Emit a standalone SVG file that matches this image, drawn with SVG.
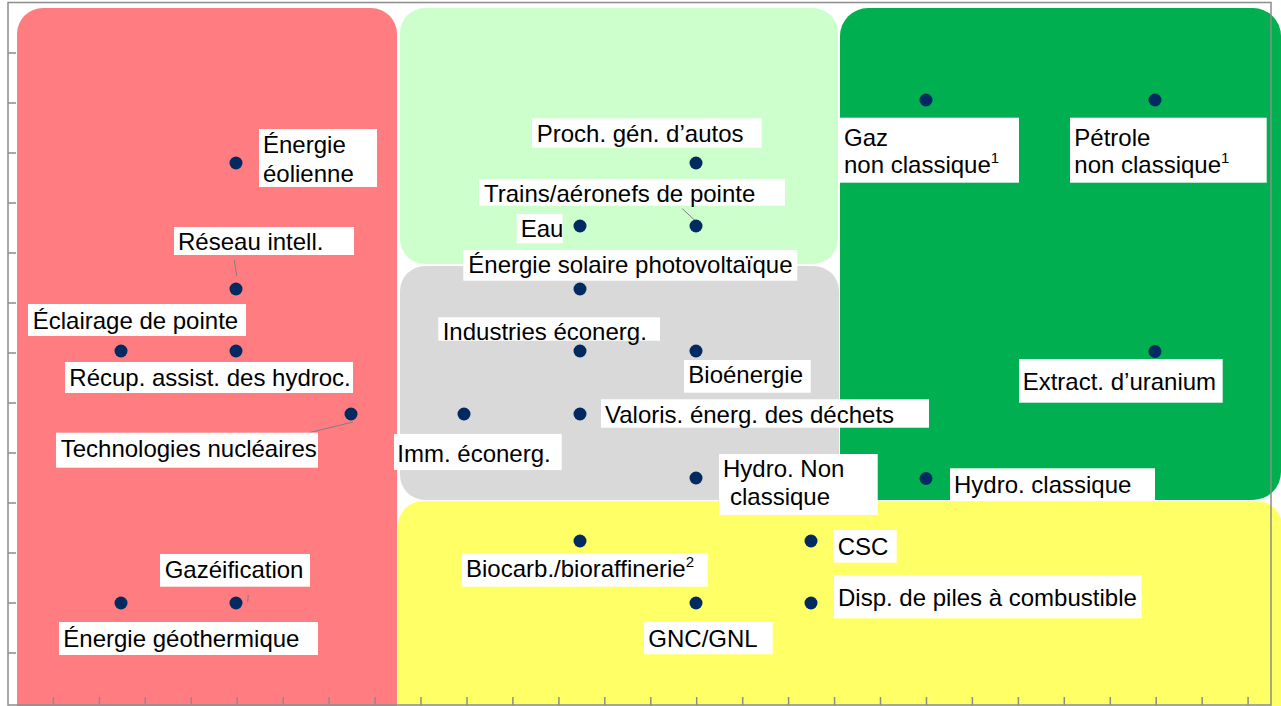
<svg xmlns="http://www.w3.org/2000/svg" width="1281" height="706" viewBox="0 0 1281 706">
<style>
.lbl{fill:#ffffff}
text{font-family:"Liberation Sans",Arial,sans-serif;font-size:24px;fill:#000000}
.sup{font-size:15px}
.dot{fill:#002a60}
.lead{stroke:#7f7f7f;stroke-width:1;fill:none}
.frame{stroke:#8c8c8c;stroke-width:1.5;fill:none}
</style>
<rect width="1281" height="706" fill="#ffffff"/>
<g id="regions">
<rect x="17" y="8" width="380" height="730" rx="26" fill="#ff7c80"/>
<rect x="400" y="8" width="438" height="256" rx="25" fill="#ccffcc"/>
<rect x="400" y="266" width="439" height="234" rx="25" fill="#d9d9d9"/>
<rect x="840" y="8" width="441" height="492" rx="28" fill="#00b050"/>
<rect x="398" y="501" width="884" height="235" rx="25" fill="#ffff66"/>
</g>
<g id="frame">
<rect class="frame" x="8" y="2.5" width="1263" height="702.5"/>
<path class="frame" d="M8 53h8M8 103h8M8 153h8M8 203h8M8 253h8M8 303h8M8 353h8M8 403h8M8 453h8M8 503h8M8 553h8M8 603h8M8 653h8"/>
<path class="frame" d="M53.4 697v8M99.4 697v8M145.3 697v8M191.3 697v8M237.2 697v8M283.2 697v8M329.1 697v8M375.1 697v8M421 697v8M467 697v8M512.9 697v8M558.9 697v8M604.8 697v8M650.8 697v8M696.7 697v8M742.7 697v8M788.6 697v8M834.6 697v8M880.5 697v8M926.5 697v8M972.4 697v8M1018.4 697v8M1064.3 697v8M1110.3 697v8M1156.2 697v8M1202.2 697v8M1248.1 697v8"/>
</g>
<g id="connectors">
<line class="lead" x1="234.3" y1="260" x2="236.7" y2="276"/>
<line class="lead" x1="353" y1="422" x2="310" y2="432.5"/>
<line class="lead" x1="248.3" y1="595" x2="247.7" y2="601.7"/>
<line class="lead" x1="682.3" y1="208.7" x2="701.7" y2="226.7"/>
</g>
<g id="n-eolienne"><circle class="dot" cx="236" cy="163" r="6.5"/><rect class="lbl" x="259" y="129" width="118" height="58"/><text x="263" y="153">Énergie</text><text x="263" y="182">éolienne</text></g>
<g id="n-reseau"><circle class="dot" cx="236" cy="289" r="6.5"/><rect class="lbl" x="174" y="227" width="180" height="28"/><text x="178" y="250">Réseau intell.</text></g>
<g id="n-eclairage"><circle class="dot" cx="121" cy="351" r="6.5"/><circle class="dot" cx="236" cy="351" r="6.5"/><rect class="lbl" x="28" y="304" width="218" height="32"/><text x="32.7" y="329">Éclairage de pointe</text></g>
<g id="n-recup"><rect class="lbl" x="65" y="362" width="288" height="31"/><text x="69.3" y="385.7">Récup. assist. des hydroc.</text></g>
<g id="n-nucleaire"><circle class="dot" cx="351" cy="414" r="6.5"/><rect class="lbl" x="56" y="432.7" width="262" height="35"/><text x="60.7" y="456.7">Technologies nucléaires</text></g>
<g id="n-gazeification"><circle class="dot" cx="236" cy="603" r="6.5"/><rect class="lbl" x="160" y="554" width="150" height="32.7"/><text x="164.7" y="577.7">Gazéification</text></g>
<g id="n-geothermique"><circle class="dot" cx="121" cy="603" r="6.5"/><rect class="lbl" x="59" y="622" width="259" height="33"/><text x="63.3" y="647.3">Énergie géothermique</text></g>
<g id="n-autos"><circle class="dot" cx="696" cy="163" r="6.5"/><rect class="lbl" x="532" y="118.3" width="229.7" height="29.4"/><text x="536.7" y="141.7">Proch. gén. d’autos</text></g>
<g id="n-trains"><circle class="dot" cx="696" cy="226" r="6.5"/><rect class="lbl" x="479" y="179" width="306" height="26.7"/><text x="484" y="202.3">Trains/aéronefs de pointe</text></g>
<g id="n-eau"><circle class="dot" cx="580" cy="226" r="6.5"/><rect class="lbl" x="516.7" y="214" width="46" height="29.3"/><text x="520.7" y="236.7">Eau</text></g>
<g id="n-solaire"><circle class="dot" cx="580" cy="289" r="6.5"/><rect class="lbl" x="463.3" y="250" width="334" height="30.7"/><text x="468.3" y="273.3">Énergie solaire photovoltaïque</text></g>
<g id="n-industries"><circle class="dot" cx="580" cy="351" r="6.5"/><rect class="lbl" x="438.3" y="317.3" width="221.7" height="23.4"/><text x="442.7" y="340">Industries éconerg.</text></g>
<g id="n-bioenergie"><circle class="dot" cx="696" cy="351" r="6.5"/><rect class="lbl" x="684" y="360" width="126.7" height="32.7"/><text x="688.3" y="383.3">Bioénergie</text></g>
<g id="n-valoris"><circle class="dot" cx="580" cy="414" r="6.5"/><rect class="lbl" x="601" y="399.3" width="328" height="28.4"/><text x="605" y="423.3">Valoris. énerg. des déchets</text></g>
<g id="n-imm"><circle class="dot" cx="464" cy="414" r="6.5"/><rect class="lbl" x="394" y="434" width="167.7" height="36"/><text x="397.3" y="461.7">Imm. éconerg.</text></g>
<g id="n-hydro-nc"><circle class="dot" cx="696" cy="478" r="6.5"/><rect class="lbl" x="719" y="454" width="158.7" height="61"/><text x="723" y="476.5">Hydro. Non</text><text x="730" y="504.5">classique</text></g>
<g id="n-gaz"><circle class="dot" cx="926" cy="100" r="6.5"/><rect class="lbl" x="840" y="117.7" width="179" height="65"/><text x="844" y="145.7">Gaz</text><text x="844" y="173.3">non classique<tspan class="sup" dy="-10">1</tspan></text></g>
<g id="n-petrole"><circle class="dot" cx="1155" cy="100" r="6.5"/><rect class="lbl" x="1070" y="117.7" width="196.7" height="65"/><text x="1074.3" y="145.7">Pétrole</text><text x="1074.3" y="173.3">non classique<tspan class="sup" dy="-10">1</tspan></text></g>
<g id="n-uranium"><circle class="dot" cx="1155" cy="351.5" r="6.5"/><rect class="lbl" x="1019" y="359" width="203.7" height="43.7"/><text x="1022.7" y="390">Extract. d’uranium</text></g>
<g id="n-hydro-c"><circle class="dot" cx="926" cy="478.5" r="6.5"/><rect class="lbl" x="950" y="468.3" width="205" height="32.4"/><text x="954" y="493.3">Hydro. classique</text></g>
<g id="n-csc"><circle class="dot" cx="811" cy="541" r="6.5"/><rect class="lbl" x="833.3" y="530" width="63.4" height="32.7"/><text x="837.7" y="555">CSC</text></g>
<g id="n-piles"><circle class="dot" cx="811" cy="603" r="6.5"/><rect class="lbl" x="834" y="575" width="307.7" height="43.3"/><text x="838" y="605.7">Disp. de piles à combustible</text></g>
<g id="n-biocarb"><circle class="dot" cx="580" cy="541" r="6.5"/><rect class="lbl" x="461.7" y="553.3" width="246" height="33.4"/><text x="466" y="576.7">Biocarb./bioraffinerie<tspan class="sup" dy="-10">2</tspan></text></g>
<g id="n-gnc"><circle class="dot" cx="696" cy="603" r="6.5"/><rect class="lbl" x="644" y="621.7" width="128.7" height="32.6"/><text x="648.3" y="646.7">GNC/GNL</text></g>
</svg>
